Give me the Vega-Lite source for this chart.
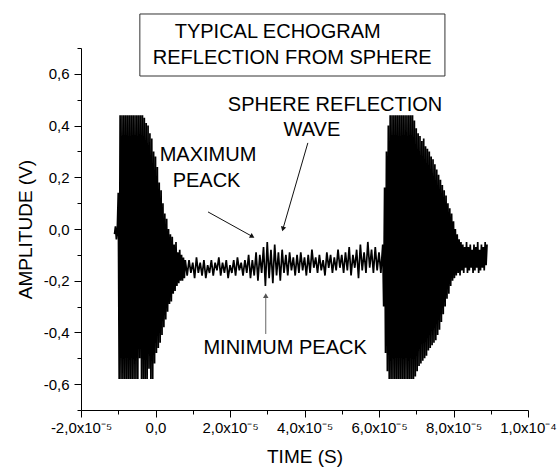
{
"$schema": "https://vega.github.io/schema/vega-lite/v6.json",
"width": 447, "height": 362,
"autosize": {"type": "none"},
"padding": {"left": 81, "top": 48, "right": 31, "bottom": 64},
"background": "white",
"config": {"font": "Liberation Sans", "view": {"stroke": null},
  "axis": {"grid": false, "domainColor": "#000", "tickColor": "#000", "labelColor": "#000", "titleColor": "#000", "labelFont": "Liberation Sans", "titleFont": "Liberation Sans", "titleFontWeight": "normal", "domainWidth": 1, "tickWidth": 1}},
"datasets": {
"sig": [
{"t":-11e-6,"v":-0.02},{"t":-10.75e-6,"v":0.01},{"t":-10.5e-6,"v":-0.04},{"t":-10.25e-6,"v":0.0},
{"t":-10e-6,"v":0.14},{"t":-9.75e-6,"v":-0.58},{"t":-9.5e-6,"v":0.44},{"t":-9.25e-6,"v":-0.58},{"t":-9e-6,"v":0.44},{"t":-8.75e-6,"v":-0.58},{"t":-8.5e-6,"v":0.44},{"t":-8.25e-6,"v":-0.58},{"t":-8e-6,"v":0.44},{"t":-7.75e-6,"v":-0.58},{"t":-7.5e-6,"v":0.44},{"t":-7.25e-6,"v":-0.58},{"t":-7e-6,"v":0.44},{"t":-6.75e-6,"v":-0.58},{"t":-6.5e-6,"v":0.44},{"t":-6.25e-6,"v":-0.58},{"t":-6e-6,"v":0.44},{"t":-5.75e-6,"v":-0.58},{"t":-5.5e-6,"v":0.44},{"t":-5.25e-6,"v":-0.58},{"t":-5e-6,"v":0.44},{"t":-4.75e-6,"v":-0.58},{"t":-4.5e-6,"v":0.44},{"t":-4.25e-6,"v":-0.50},{"t":-4e-6,"v":0.44},{"t":-3.75e-6,"v":-0.58},{"t":-3.5e-6,"v":0.44},{"t":-3.25e-6,"v":-0.58},{"t":-3e-6,"v":0.43},{"t":-2.75e-6,"v":-0.58},{"t":-2.5e-6,"v":0.41},{"t":-2.25e-6,"v":-0.58},{"t":-2e-6,"v":0.40},{"t":-1.75e-6,"v":-0.54},{"t":-1.5e-6,"v":0.37},{"t":-1.25e-6,"v":-0.58},{"t":-1e-6,"v":0.35},{"t":-0.75e-6,"v":-0.58},{"t":-0.5e-6,"v":0.30},{"t":-0.25e-6,"v":-0.52},
{"t":0,"v":0.28},{"t":0.25e-6,"v":-0.48},{"t":0.5e-6,"v":0.24},{"t":0.75e-6,"v":-0.46},{"t":1e-6,"v":0.18},{"t":1.25e-6,"v":-0.44},{"t":1.5e-6,"v":0.15},{"t":1.75e-6,"v":-0.41},{"t":2e-6,"v":0.10},{"t":2.25e-6,"v":-0.38},{"t":2.5e-6,"v":0.06},{"t":2.75e-6,"v":-0.35},{"t":3e-6,"v":0.04},{"t":3.25e-6,"v":-0.32},{"t":3.5e-6,"v":0.0},{"t":3.75e-6,"v":-0.29},{"t":4e-6,"v":-0.02},{"t":4.25e-6,"v":-0.28},{"t":4.5e-6,"v":-0.03},{"t":4.75e-6,"v":-0.25},{"t":5e-6,"v":-0.06},{"t":5.25e-6,"v":-0.24},{"t":5.5e-6,"v":-0.05},{"t":5.75e-6,"v":-0.22},{"t":6e-6,"v":-0.09},{"t":6.25e-6,"v":-0.21},{"t":6.5e-6,"v":-0.08},{"t":6.75e-6,"v":-0.20},{"t":7e-6,"v":-0.10},{"t":7.25e-6,"v":-0.20},{"t":7.5e-6,"v":-0.11},{"t":7.75e-6,"v":-0.19},{"t":8e-6,"v":-0.12},
{"t":8.5e-6,"v":-0.18},{"t":9e-6,"v":-0.12},{"t":9.5e-6,"v":-0.17},{"t":10e-6,"v":-0.13},{"t":10.5e-6,"v":-0.19},{"t":11e-6,"v":-0.11},{"t":11.5e-6,"v":-0.17},{"t":12e-6,"v":-0.13},{"t":12.5e-6,"v":-0.18},{"t":13e-6,"v":-0.12},{"t":13.5e-6,"v":-0.19},{"t":14e-6,"v":-0.14},{"t":14.5e-6,"v":-0.17},{"t":15e-6,"v":-0.12},{"t":15.5e-6,"v":-0.18},{"t":16e-6,"v":-0.13},{"t":16.5e-6,"v":-0.16},{"t":17e-6,"v":-0.11},{"t":17.5e-6,"v":-0.18},{"t":18e-6,"v":-0.13},{"t":18.5e-6,"v":-0.17},{"t":19e-6,"v":-0.12},{"t":19.5e-6,"v":-0.19},{"t":20e-6,"v":-0.14},{"t":20.5e-6,"v":-0.17},{"t":21e-6,"v":-0.12},{"t":21.5e-6,"v":-0.18},{"t":22e-6,"v":-0.11},{"t":22.5e-6,"v":-0.16},{"t":23e-6,"v":-0.13},{"t":23.5e-6,"v":-0.18},{"t":24e-6,"v":-0.12},{"t":24.5e-6,"v":-0.17},{"t":25e-6,"v":-0.10},{"t":25.5e-6,"v":-0.19},{"t":26e-6,"v":-0.12},{"t":26.5e-6,"v":-0.18},{"t":27e-6,"v":-0.09},{"t":27.5e-6,"v":-0.20},{"t":28e-6,"v":-0.10},{"t":28.5e-6,"v":-0.17},{"t":29e-6,"v":-0.07},{"t":29.5e-6,"v":-0.22},{"t":30e-6,"v":-0.05},{"t":30.5e-6,"v":-0.19},{"t":31e-6,"v":-0.08},{"t":31.5e-6,"v":-0.21},{"t":32e-6,"v":-0.06},{"t":32.5e-6,"v":-0.18},{"t":33e-6,"v":-0.09},{"t":33.5e-6,"v":-0.20},{"t":34e-6,"v":-0.08},{"t":34.5e-6,"v":-0.17},{"t":35e-6,"v":-0.10},{"t":35.5e-6,"v":-0.18},{"t":36e-6,"v":-0.09},{"t":36.5e-6,"v":-0.16},{"t":37e-6,"v":-0.11},{"t":37.5e-6,"v":-0.18},{"t":38e-6,"v":-0.10},{"t":38.5e-6,"v":-0.17},{"t":39e-6,"v":-0.09},{"t":39.5e-6,"v":-0.16},{"t":40e-6,"v":-0.11},{"t":40.5e-6,"v":-0.18},{"t":41e-6,"v":-0.10},{"t":41.5e-6,"v":-0.17},{"t":42e-6,"v":-0.08},{"t":42.5e-6,"v":-0.15},{"t":43e-6,"v":-0.11},{"t":43.5e-6,"v":-0.17},{"t":44e-6,"v":-0.10},{"t":44.5e-6,"v":-0.16},{"t":45e-6,"v":-0.12},{"t":45.5e-6,"v":-0.18},{"t":46e-6,"v":-0.09},{"t":46.5e-6,"v":-0.15},{"t":47e-6,"v":-0.10},{"t":47.5e-6,"v":-0.17},{"t":48e-6,"v":-0.11},{"t":48.5e-6,"v":-0.16},{"t":49e-6,"v":-0.08},{"t":49.5e-6,"v":-0.15},{"t":50e-6,"v":-0.10},{"t":50.5e-6,"v":-0.17},{"t":51e-6,"v":-0.09},{"t":51.5e-6,"v":-0.16},{"t":52e-6,"v":-0.07},{"t":52.5e-6,"v":-0.18},{"t":53e-6,"v":-0.10},{"t":53.5e-6,"v":-0.15},{"t":54e-6,"v":-0.08},{"t":54.5e-6,"v":-0.19},{"t":55e-6,"v":-0.06},{"t":55.5e-6,"v":-0.16},{"t":56e-6,"v":-0.09},{"t":56.5e-6,"v":-0.17},{"t":57e-6,"v":-0.05},{"t":57.5e-6,"v":-0.15},{"t":58e-6,"v":-0.08},{"t":58.5e-6,"v":-0.17},{"t":59e-6,"v":-0.07},{"t":59.5e-6,"v":-0.16},{"t":60e-6,"v":-0.09},{"t":60.5e-6,"v":-0.17},{"t":61e-6,"v":-0.06},
{"t":61.25e-6,"v":-0.30},{"t":61.5e-6,"v":0.16},{"t":61.75e-6,"v":-0.48},{"t":62e-6,"v":0.30},{"t":62.25e-6,"v":-0.55},{"t":62.5e-6,"v":0.40},{"t":62.75e-6,"v":-0.58},{"t":63e-6,"v":0.44},{"t":63.25e-6,"v":-0.58},{"t":63.5e-6,"v":0.44},{"t":63.75e-6,"v":-0.58},{"t":64e-6,"v":0.44},{"t":64.25e-6,"v":-0.58},{"t":64.5e-6,"v":0.44},{"t":64.75e-6,"v":-0.58},{"t":65e-6,"v":0.44},{"t":65.25e-6,"v":-0.58},{"t":65.5e-6,"v":0.44},{"t":65.75e-6,"v":-0.58},{"t":66e-6,"v":0.44},{"t":66.25e-6,"v":-0.58},{"t":66.5e-6,"v":0.44},{"t":66.75e-6,"v":-0.58},{"t":67e-6,"v":0.44},{"t":67.25e-6,"v":-0.58},{"t":67.5e-6,"v":0.44},{"t":67.75e-6,"v":-0.58},{"t":68e-6,"v":0.44},{"t":68.25e-6,"v":-0.58},{"t":68.5e-6,"v":0.44},{"t":68.75e-6,"v":-0.58},{"t":69e-6,"v":0.44},{"t":69.25e-6,"v":-0.58},{"t":69.5e-6,"v":0.42},{"t":69.75e-6,"v":-0.57},{"t":70e-6,"v":0.39},{"t":70.25e-6,"v":-0.55},{"t":70.5e-6,"v":0.37},{"t":70.75e-6,"v":-0.53},{"t":71e-6,"v":0.36},{"t":71.25e-6,"v":-0.52},{"t":71.5e-6,"v":0.34},{"t":71.75e-6,"v":-0.51},{"t":72e-6,"v":0.35},{"t":72.25e-6,"v":-0.50},{"t":72.5e-6,"v":0.32},{"t":72.75e-6,"v":-0.49},{"t":73e-6,"v":0.31},{"t":73.25e-6,"v":-0.47},{"t":73.5e-6,"v":0.30},{"t":73.75e-6,"v":-0.46},{"t":74e-6,"v":0.28},{"t":74.25e-6,"v":-0.45},{"t":74.5e-6,"v":0.27},{"t":74.75e-6,"v":-0.44},{"t":75e-6,"v":0.25},{"t":75.25e-6,"v":-0.43},{"t":75.5e-6,"v":0.23},{"t":75.75e-6,"v":-0.41},{"t":76e-6,"v":0.21},{"t":76.25e-6,"v":-0.39},{"t":76.5e-6,"v":0.19},{"t":76.75e-6,"v":-0.36},{"t":77e-6,"v":0.17},{"t":77.25e-6,"v":-0.33},{"t":77.5e-6,"v":0.15},{"t":77.75e-6,"v":-0.30},{"t":78e-6,"v":0.13},{"t":78.25e-6,"v":-0.27},{"t":78.5e-6,"v":0.10},{"t":78.75e-6,"v":-0.25},{"t":79e-6,"v":0.08},{"t":79.25e-6,"v":-0.22},{"t":79.5e-6,"v":0.06},{"t":79.75e-6,"v":-0.20},{"t":80e-6,"v":0.03},{"t":80.25e-6,"v":-0.19},{"t":80.5e-6,"v":0.0},{"t":80.75e-6,"v":-0.18},{"t":81e-6,"v":-0.02},{"t":81.25e-6,"v":-0.17},{"t":81.5e-6,"v":-0.04},{"t":81.75e-6,"v":-0.18},{"t":82e-6,"v":-0.05},{"t":82.25e-6,"v":-0.16},{"t":82.5e-6,"v":-0.06},{"t":82.75e-6,"v":-0.17},{"t":83e-6,"v":-0.07},{"t":83.25e-6,"v":-0.15},{"t":83.5e-6,"v":-0.05},{"t":83.75e-6,"v":-0.17},{"t":84e-6,"v":-0.07},{"t":84.25e-6,"v":-0.16},{"t":84.5e-6,"v":-0.06},{"t":84.75e-6,"v":-0.15},{"t":85e-6,"v":-0.08},{"t":85.25e-6,"v":-0.17},{"t":85.5e-6,"v":-0.06},{"t":85.75e-6,"v":-0.16},{"t":86e-6,"v":-0.07},{"t":86.25e-6,"v":-0.15},{"t":86.5e-6,"v":-0.05},{"t":86.75e-6,"v":-0.17},{"t":87e-6,"v":-0.08},{"t":87.25e-6,"v":-0.16},{"t":87.5e-6,"v":-0.06},{"t":87.75e-6,"v":-0.15},{"t":88e-6,"v":-0.07},{"t":88.25e-6,"v":-0.16},{"t":88.5e-6,"v":-0.05},{"t":88.75e-6,"v":-0.14},{"t":89e-6,"v":-0.06}
],
"box": [{"t1":-4.2e-6,"t2":7.77e-5,"v1":0.8315,"v2":0.5917}],
"txt": [
{"t":3.28e-5,"v":0.762,"label":"TYPICAL ECHOGRAM"},
{"t":3.67e-5,"v":0.663,"label":"REFLECTION FROM SPHERE"},
{"t":4.82e-5,"v":0.48,"label":"SPHERE REFLECTION"},
{"t":4.20e-5,"v":0.383,"label":"WAVE"},
{"t":1.41e-5,"v":0.286,"label":"MAXIMUM"},
{"t":1.37e-5,"v":0.186,"label":"PEACK"},
{"t":3.48e-5,"v":-0.46,"label":"MINIMUM PEACK"}
],
"arr": [
{"name":"max","t1":1.41e-5,"v1":0.066,"t2":2.60e-5,"v2":-0.029},
{"name":"wave","t1":4.09e-5,"v1":0.333,"t2":3.42e-5,"v2":0.0},
{"name":"min","t1":2.96e-5,"v1":-0.406,"t2":2.96e-5,"v2":-0.258}
]
},
"resolve": {"axis": {"x": "independent", "y": "independent"}},
"layer": [
{"data": {"name": "sig"},
 "mark": {"type": "line", "color": "#000", "strokeWidth": 1.7},
 "encoding": {
  "x": {"field": "t", "type": "quantitative", "scale": {"domain": [-2e-5, 1e-4], "nice": false, "zero": false},
    "axis": {"orient": "bottom", "values": [-2e-5, 0, 2e-5, 4e-5, 6e-5, 8e-5, 1e-4], "tickSize": 7, "labelPadding": 3, "labelFontSize": 15, "labelFlush": false, "labelOverlap": false,
      "labelExpr": "round(datum.value*1e5) == 0 ? '0,0' : (round(datum.value*1e5) == 10 ? '1,0x10\u207b\u2074' : round(datum.value*1e5) + ',0x10\u207b\u2075')",
      "title": "TIME (S)", "titleFontSize": 19, "titlePadding": 12}},
  "y": {"field": "v", "type": "quantitative", "scale": {"domain": [-0.7, 0.7], "nice": false, "zero": false},
    "axis": {"orient": "left", "values": [-0.6, -0.4, -0.2, 0, 0.2, 0.4, 0.6], "tickSize": 7, "labelPadding": 5, "labelFontSize": 15, "labelFlush": false, "labelOverlap": false,
      "labelExpr": "(datum.value < -0.001 ? '-' : '') + replace(format(abs(datum.value), '.1f'), '.', ',')",
      "title": "AMPLITUDE (V)", "titleFontSize": 19, "titlePadding": 8}}
 }},
{"data": {"name": "box"},
 "mark": {"type": "rect", "fill": "white", "stroke": "#333", "strokeWidth": 1},
 "encoding": {
  "x": {"field": "t1", "type": "quantitative",
    "axis": {"orient": "bottom", "values": [-1e-5, 1e-5, 3e-5, 5e-5, 7e-5, 9e-5], "tickSize": 4, "labels": false, "domain": false, "title": null}},
  "x2": {"field": "t2"},
  "y": {"field": "v1", "type": "quantitative",
    "axis": {"orient": "left", "values": [-0.7, -0.5, -0.3, -0.1, 0.1, 0.3, 0.5, 0.7], "tickSize": 4, "labels": false, "domain": false, "title": null}},
  "y2": {"field": "v2"}
 }},
{"data": {"name": "txt"},
 "mark": {"type": "text", "font": "Liberation Sans", "fontSize": 20, "align": "center", "baseline": "middle", "color": "#000"},
 "encoding": {
  "x": {"field": "t", "type": "quantitative", "axis": null},
  "y": {"field": "v", "type": "quantitative", "axis": null},
  "text": {"field": "label"}
 }},
{"data": {"name": "arr"},
 "mark": {"type": "rule", "strokeWidth": 1},
 "encoding": {
  "x": {"field": "t1", "type": "quantitative", "axis": null},
  "y": {"field": "v1", "type": "quantitative", "axis": null},
  "x2": {"field": "t2"}, "y2": {"field": "v2"},
  "color": {"field": "name", "type": "nominal", "scale": {"domain": ["max", "wave", "min"], "range": ["#111", "#111", "#666"]}, "legend": null}
 }},
{"data": {"name": "arr"},
 "transform": [{"filter": "datum.name == 'max'"}],
 "mark": {"type": "point", "shape": "triangle-up", "filled": true, "size": 30, "angle": 120, "color": "#111", "opacity": 1},
 "encoding": {"x": {"field": "t2", "type": "quantitative", "axis": null}, "y": {"field": "v2", "type": "quantitative", "axis": null}}},
{"data": {"name": "arr"},
 "transform": [{"filter": "datum.name == 'wave'"}],
 "mark": {"type": "point", "shape": "triangle-up", "filled": true, "size": 30, "angle": 196, "color": "#111", "opacity": 1},
 "encoding": {"x": {"field": "t2", "type": "quantitative", "axis": null}, "y": {"field": "v2", "type": "quantitative", "axis": null}}},
{"data": {"name": "arr"},
 "transform": [{"filter": "datum.name == 'min'"}],
 "mark": {"type": "point", "shape": "triangle-up", "filled": true, "size": 30, "angle": 0, "color": "#555", "opacity": 1},
 "encoding": {"x": {"field": "t2", "type": "quantitative", "axis": null}, "y": {"field": "v2", "type": "quantitative", "axis": null}}}
]
}
